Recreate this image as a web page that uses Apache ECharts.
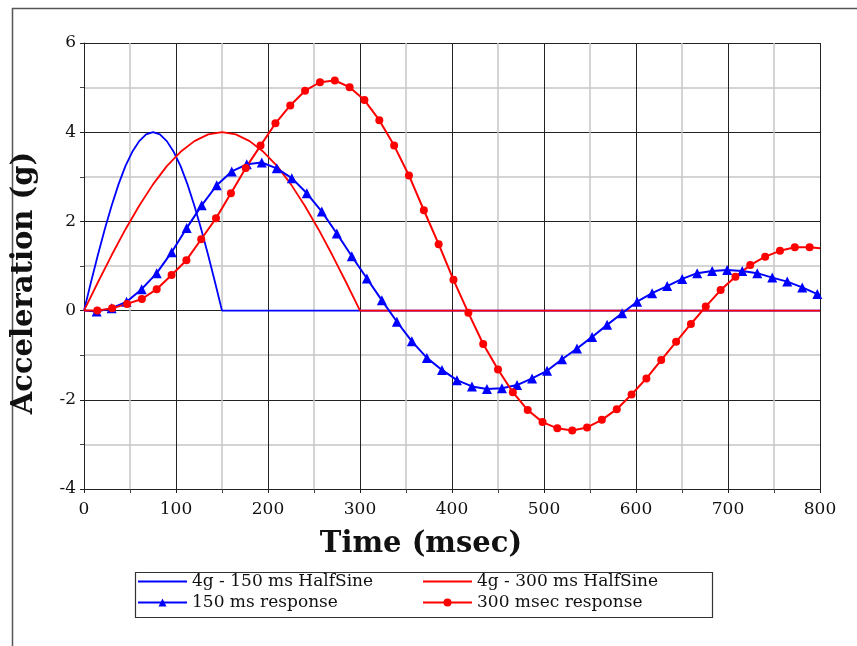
<!DOCTYPE html>
<html>
<head>
<meta charset="utf-8">
<script src="https://cdn.jsdelivr.net/npm/echarts@6/dist/echarts.min.js"></script>
<style>html,body{margin:0;padding:0;background:#fff}#c{width:857px;height:646px}</style>
</head>
<body>
<div id="c"></div>
<script>
// ---- data ----
var hs150T = [0, 7.5, 15, 22.5, 30, 37.5, 45, 52.5, 60, 67.5, 75, 82.5, 90, 97.5, 105, 112.5, 120, 127.5, 135, 142.5, 150, 800];
var hs150V = [0, 0.63, 1.24, 1.82, 2.35, 2.83, 3.24, 3.56, 3.80, 3.95, 4.00, 3.95, 3.80, 3.56, 3.24, 2.83, 2.35, 1.82, 1.24, 0.63, 0, 0];
var hs300T = [0, 15, 30, 45, 60, 75, 90, 105, 120, 135, 150, 165, 180, 195, 210, 225, 240, 255, 270, 285, 300, 800];
var hs300V = [0, 0.63, 1.24, 1.82, 2.35, 2.83, 3.24, 3.56, 3.80, 3.95, 4.00, 3.95, 3.80, 3.56, 3.24, 2.83, 2.35, 1.82, 1.24, 0.63, 0, 0];

// 150 ms response (first and last points carry no marker)
var r150T = [0, 13.7, 30.0, 46.3, 62.7, 79.0, 95.3, 111.6, 127.9, 144.3, 160.6, 176.9, 193.2, 209.5, 225.9, 242.2, 258.5, 274.8, 291.1, 307.5, 323.8, 340.1, 356.4, 372.7, 389.1, 405.4, 421.7, 438.0, 454.3, 470.7, 487.0, 503.3, 519.6, 535.9, 552.3, 568.6, 584.9, 601.2, 617.5, 633.9, 650.2, 666.5, 682.8, 699.1, 715.5, 731.8, 748.1, 764.4, 780.7, 797.1, 800];
var r150V = [0, -0.02, 0.05, 0.20, 0.48, 0.84, 1.31, 1.85, 2.36, 2.81, 3.12, 3.28, 3.32, 3.19, 2.97, 2.63, 2.22, 1.73, 1.22, 0.72, 0.23, -0.25, -0.69, -1.06, -1.33, -1.56, -1.70, -1.76, -1.74, -1.67, -1.52, -1.35, -1.09, -0.85, -0.59, -0.32, -0.06, 0.20, 0.39, 0.55, 0.71, 0.84, 0.89, 0.91, 0.89, 0.84, 0.74, 0.65, 0.52, 0.37, 0.35];

// 300 msec response (first and last points carry no marker)
var r300T = [0, 14.5, 30.6, 46.8, 62.9, 79.0, 95.2, 111.3, 127.4, 143.5, 159.7, 175.8, 191.9, 208.1, 224.2, 240.3, 256.5, 272.6, 288.7, 304.8, 321.0, 337.1, 353.2, 369.4, 385.5, 401.6, 417.8, 433.9, 450.0, 466.1, 482.3, 498.4, 514.5, 530.7, 546.8, 562.9, 579.1, 595.2, 611.3, 627.4, 643.6, 659.7, 675.8, 692.0, 708.1, 724.2, 740.4, 756.5, 772.6, 788.7, 800];
var r300V = [0, 0.00, 0.05, 0.15, 0.26, 0.48, 0.80, 1.13, 1.60, 2.07, 2.63, 3.20, 3.70, 4.20, 4.60, 4.93, 5.12, 5.16, 5.01, 4.72, 4.27, 3.70, 3.03, 2.25, 1.49, 0.69, -0.05, -0.75, -1.32, -1.83, -2.23, -2.50, -2.64, -2.69, -2.62, -2.45, -2.21, -1.88, -1.52, -1.11, -0.70, -0.30, 0.09, 0.46, 0.76, 1.02, 1.21, 1.34, 1.42, 1.42, 1.40];

var seriesNames = ['4g - 150 ms HalfSine', '4g - 300 ms HalfSine', '150 ms response', '300 msec response'];
var xTicks = {min: 0, max: 800, step: 100};
var yTicks = {min: -4, max: 6, step: 2};

// ---- build ----
function pairs(t, v) { return t.map(function (x, i) { return [x, v[i]]; }); }
function markedPairs(t, v) {
  return t.map(function (x, i) {
    var item = {value: [x, v[i]]};
    if (i === 0 || i === t.length - 1) item.symbol = 'none';
    return item;
  });
}
var FONT = 'DejaVu Serif';
var chart = echarts.init(document.getElementById('c'), null, {renderer: 'canvas'});
var legendText = {fontFamily: FONT, fontSize: 17, color: '#111'};
chart.setOption({
  animation: false,
  backgroundColor: '#fff',
  grid: {left: 84, right: 37, top: 43, bottom: 157},
  graphic: [
    {type: 'rect', left: 10, top: 6, shape: {x: 0, y: 0, width: 900, height: 700}, style: {fill: 'none', stroke: '#555', lineWidth: 1.5}, silent: true},
    {type: 'rect', left: 133, top: 570, shape: {x: 0, y: 0, width: 577, height: 45}, style: {fill: 'none', stroke: '#333', lineWidth: 1.2}, silent: true, z: 1}
  ],
  legend: [
    {orient: 'vertical', left: 137, top: 573, itemWidth: 49, itemHeight: 10, itemGap: 4, padding: 0,
     data: [{name: seriesNames[0], itemStyle: {opacity: 0}}, seriesNames[2]], textStyle: legendText},
    {orient: 'vertical', left: 422, top: 573, itemWidth: 49, itemHeight: 10, itemGap: 4, padding: 0,
     data: [{name: seriesNames[1], itemStyle: {opacity: 0}}, seriesNames[3]], textStyle: legendText}
  ],
  xAxis: {
    type: 'value', min: xTicks.min, max: xTicks.max, interval: xTicks.step,
    name: 'Time (msec)', nameLocation: 'middle', nameGap: 41,
    nameTextStyle: {fontFamily: FONT, fontSize: 29, fontWeight: 'bold', color: '#111', padding: [0, 62, 0, 0]},
    axisLine: {show: true, onZero: false, lineStyle: {color: '#222', width: 1}},
    axisTick: {show: true, length: 4, lineStyle: {color: '#222'}},
    minorTick: {show: true, splitNumber: 2, length: 4, lineStyle: {color: '#444'}},
    axisLabel: {margin: 12, fontFamily: FONT, fontSize: 17, color: '#111'},
    splitLine: {show: true, lineStyle: {color: '#222', width: 1}},
    minorSplitLine: {show: true, lineStyle: {color: '#c6c6c6', width: 1.5}}
  },
  yAxis: {
    type: 'value', min: yTicks.min, max: yTicks.max, interval: yTicks.step,
    name: 'Acceleration (g)', nameLocation: 'middle', nameGap: 45,
    nameTextStyle: {fontFamily: FONT, fontSize: 29, fontWeight: 'bold', color: '#111', padding: [0, 34, 0, 0]},
    axisLine: {show: true, onZero: false, lineStyle: {color: '#222', width: 1}},
    axisTick: {show: true, length: 4, lineStyle: {color: '#222'}},
    minorTick: {show: true, splitNumber: 2, length: 4, lineStyle: {color: '#444'}},
    axisLabel: {margin: 8, fontFamily: FONT, fontSize: 17, color: '#111'},
    splitLine: {show: true, lineStyle: {color: '#222', width: 1}},
    minorSplitLine: {show: true, lineStyle: {color: '#c6c6c6', width: 1.5}}
  },
  series: [
    {name: seriesNames[0], type: 'line', data: pairs(hs150T, hs150V), showSymbol: false, symbol: 'none',
     lineStyle: {color: '#0000ff', width: 1.8}, itemStyle: {color: '#0000ff'}},
    {name: seriesNames[1], type: 'line', data: pairs(hs300T, hs300V), showSymbol: false, symbol: 'none',
     lineStyle: {color: '#ff0000', width: 1.8}, itemStyle: {color: '#ff0000'}},
    {name: seriesNames[2], type: 'line', data: markedPairs(r150T, r150V), symbol: 'triangle', symbolSize: 10,
     lineStyle: {color: '#0000ff', width: 2}, itemStyle: {color: '#0000ff'}},
    {name: seriesNames[3], type: 'line', data: markedPairs(r300T, r300V), symbol: 'circle', symbolSize: 8,
     lineStyle: {color: '#ff0000', width: 2}, itemStyle: {color: '#ff0000'}}
  ]
});
</script>
</body>
</html>
